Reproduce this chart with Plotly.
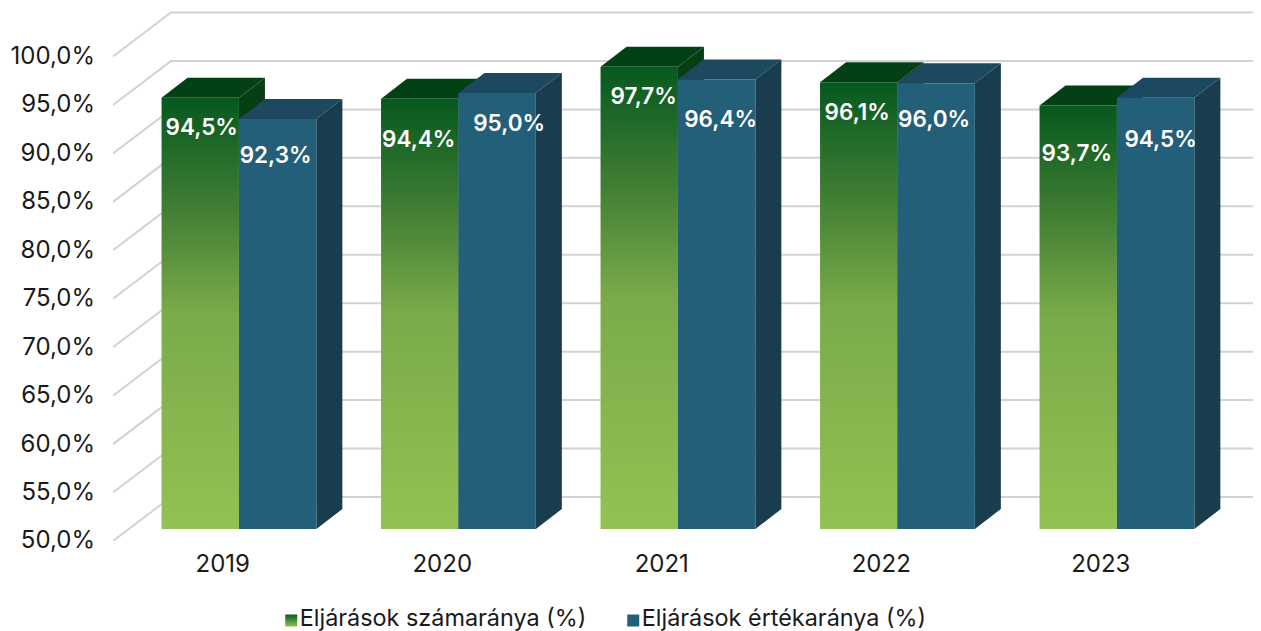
import plotly.graph_objects as go

years = ["2019", "2020", "2021", "2022", "2023"]
szamarany = [94.5, 94.4, 97.7, 96.1, 93.7]
ertekarany = [92.3, 95.0, 96.4, 96.0, 94.5]
y_ticks = [50, 55, 60, 65, 70, 75, 80, 85, 90, 95, 100]
y_tick_labels = ["50,0%", "55,0%", "60,0%", "65,0%", "70,0%", "75,0%", "80,0%", "85,0%", "90,0%", "95,0%", "100,0%"]
names = ["Eljárások számaránya (%)", "Eljárások értékaránya (%)"]

# hand placed data labels in the original, pixels from the top centre of each bar
green_label_dx = [1.5, -1, 4.5, -1.5, -1.5]
green_label_drop = [32, 43, 32, 32, 50]
blue_label_dx = [-2, 12, 4, -2, 5]
blue_label_drop = [38, 32, 42, 38, 44]

FONT = "Inter"
# the page has an 8px body margin, so the figure sits 8px in from the top left
W, H = 1253, 623
AXIS_X, AXIS_Y = 113 - 8, 541 - 8
PX_X = 219.5  # pixels per category
PX_Y = 9.69   # pixels per percent
x_range = [-0.5, -0.5 + (W - AXIS_X) / PX_X]
y_range = [50, 50 + AXIS_Y / PX_Y]

# oblique "3D" offsets, pixels converted to axis units
wall_dx, wall_dy = 58 / PX_X, 44 / PX_Y
bar_dx, bar_dy = 16.2 / PX_X, 12 / PX_Y
depth_dx, depth_dy = 26 / PX_X, 20 / PX_Y
bar_w = 77.4 / PX_X

GREEN_SCALE = [[0, "#94c153"], [0.5, "#7aab49"], [0.75, "#3f7d33"], [1, "#06581f"]]
GREEN_TOP, GREEN_SIDE = "#044016", "#063f14"
BLUE_FRONT, BLUE_TOP, BLUE_SIDE = "#245f7a", "#1c4960", "#193c4e"

fig = go.Figure()


def poly(xs, ys, color=None, gradient=None):
    args = dict(x=xs + xs[:1], y=ys + ys[:1], mode="lines", fill="toself", line=dict(width=0),
                hoverinfo="skip", showlegend=False)
    if gradient:
        args["fillgradient"] = dict(type="vertical", colorscale=gradient)
    else:
        args["fillcolor"] = color
    fig.add_trace(go.Scatter(**args))


def bar3d(left, val, front, top, side):
    x0, x1 = left, left + bar_w
    y0, y1 = 50 + bar_dy, val + bar_dy
    poly([x0, x1, x1 + depth_dx, x0 + depth_dx], [y1, y1, y1 + depth_dy, y1 + depth_dy], top)
    poly([x1, x1 + depth_dx, x1 + depth_dx, x1], [y0, y0 + depth_dy, y1 + depth_dy, y1], side)
    if isinstance(front, list):
        poly([x0, x1, x1, x0], [y0, y0, y1, y1], gradient=front)
    else:
        poly([x0, x1, x1, x0], [y0, y0, y1, y1], front)


# gridlines: floor edge going back, then along the back wall
for t in y_ticks:
    fig.add_trace(go.Scatter(x=[x_range[0], x_range[0] + wall_dx, x_range[1]], y=[t, t + wall_dy, t + wall_dy],
                             mode="lines", line=dict(color="#d2d2d2", width=2), hoverinfo="skip", showlegend=False))

for i in range(len(years)):
    bar3d(i + bar_dx - bar_w, szamarany[i], GREEN_SCALE, GREEN_TOP, GREEN_SIDE)
    bar3d(i + bar_dx, ertekarany[i], BLUE_FRONT, BLUE_TOP, BLUE_SIDE)

# data labels
label_x, label_y, label_text = [], [], []
for i in range(len(years)):
    label_x.append(i + bar_dx - bar_w / 2 + green_label_dx[i] / PX_X)
    label_y.append(szamarany[i] + bar_dy - green_label_drop[i] / PX_Y)
    label_text.append(f"{szamarany[i]:.1f}%".replace(".", ","))
    label_x.append(i + bar_dx + bar_w / 2 + blue_label_dx[i] / PX_X)
    label_y.append(ertekarany[i] + bar_dy - blue_label_drop[i] / PX_Y)
    label_text.append(f"{ertekarany[i]:.1f}%".replace(".", ","))
fig.add_trace(go.Scatter(x=label_x, y=label_y, text=label_text, mode="text", textposition="middle center",
                         textfont=dict(family=FONT, size=22.5, color="white", weight=600),
                         hoverinfo="skip", showlegend=False))

# legend row is its own little hidden subplot, the keys are gradient squares
for key_px, name, col, grad in [(292.5, names[0], "#06581f", dict(type="vertical", color="#94c153")),
                                (634.5, names[1], BLUE_FRONT, None)]:
    fig.add_trace(go.Scatter(x=[(key_px - 224) / PX_X], y=[10.5], mode="markers+text", text=[name],
                             textposition="middle right", xaxis="x2", yaxis="y2",
                             marker=dict(symbol="square", size=12, color=col, gradient=grad),
                             textfont=dict(family=FONT, size=23.4, color="#1a1a1a"),
                             hoverinfo="skip", showlegend=False))

fig.update_layout(
    width=W, height=H,
    margin=dict(l=AXIS_X, r=0, t=0, b=0),
    paper_bgcolor="white", plot_bgcolor="white",
    showlegend=False,
    font=dict(family=FONT, size=24, color="#1a1a1a"),
    xaxis=dict(range=x_range, tickvals=list(range(len(years))), ticktext=years, showgrid=False, automargin=False,
               zeroline=False, showline=False, ticks="", ticklabelstandoff=6),
    yaxis=dict(domain=[(H - AXIS_Y) / H, 1], range=y_range, tickvals=y_ticks, ticktext=y_tick_labels, automargin=False,
               showgrid=False, zeroline=False, showline=False, ticks="", ticklabelstandoff=17, ticklabelshift=-1),
    xaxis2=dict(range=x_range, visible=False, anchor="y2", automargin=False),
    yaxis2=dict(domain=[0, 40 / H], range=[0, 40], visible=False, anchor="x2", automargin=False),
)

fig.write_html("out.html")
